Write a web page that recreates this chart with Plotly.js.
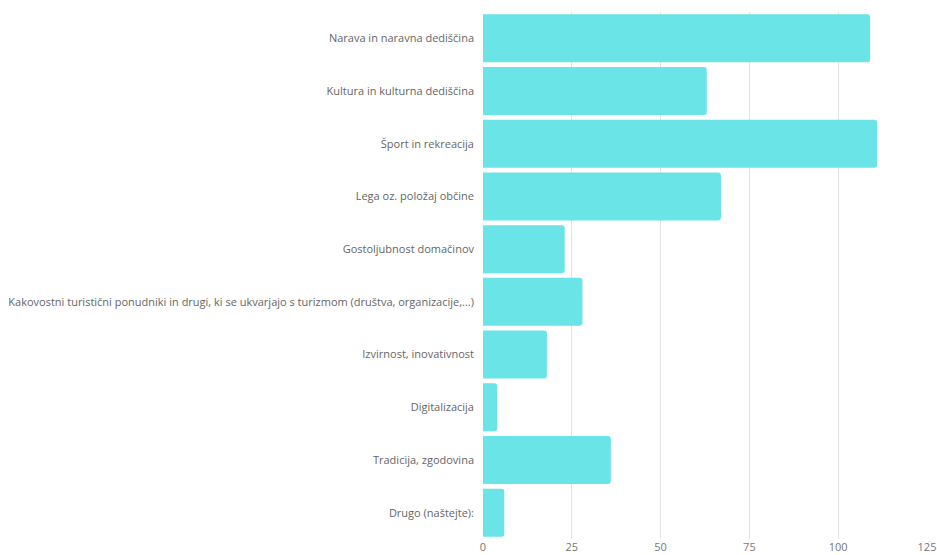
<!DOCTYPE html>
<html>
<head>
<meta charset="utf-8">
<script src="https://cdn.plot.ly/plotly-3.0.1.min.js"></script>
<style>html,body{margin:0;padding:0;background:#fff;}#chart{width:937px;height:555px;}</style>
</head>
<body>
<div id="chart"></div>
<script>
const categories = [
  "Narava in naravna dediščina",
  "Kultura in kulturna dediščina",
  "Šport in rekreacija",
  "Lega oz. položaj občine",
  "Gostoljubnost domačinov",
  "Kakovostni turistični ponudniki in drugi, ki se ukvarjajo s turizmom (društva, organizacije,...)",
  "Izvirnost, inovativnost",
  "Digitalizacija",
  "Tradicija, zgodovina",
  "Drugo (naštejte):"
];
const values = [109, 63, 111, 67, 23, 28, 18, 4, 36, 6];
const tickValues = [0, 25, 50, 75, 100, 125];

const trace = {
  type: "bar",
  orientation: "h",
  x: values,
  y: categories,
  marker: {color: "#6be4e8", cornerradius: 3},
  hoverinfo: "x+y"
};

const layout = {
  width: 937,
  height: 555,
  margin: {l: 483, r: 10, t: 12, b: 16},
  paper_bgcolor: "#ffffff",
  plot_bgcolor: "#ffffff",
  font: {family: "'Open Sans', sans-serif", size: 11, color: "#666666"},
  bargap: 0.09,
  showlegend: false,
  xaxis: {
    range: [0, 125],
    tickvals: tickValues,
    ticktext: tickValues.map(String),
    showgrid: true,
    gridcolor: "#e3e3e3",
    gridwidth: 1,
    zeroline: false,
    showline: false,
    ticks: "",
    fixedrange: true,
    tickfont: {size: 11, color: "#777777"}
  },
  yaxis: {
    autorange: "reversed",
    type: "category",
    showgrid: false,
    zeroline: false,
    showline: false,
    ticks: "",
    ticklabelstandoff: 8,
    tickfont: {size: 11, color: "#666666"},
    fixedrange: true
  }
};

Plotly.newPlot("chart", [trace], layout, {displayModeBar: false, staticPlot: true});
</script>
</body>
</html>
